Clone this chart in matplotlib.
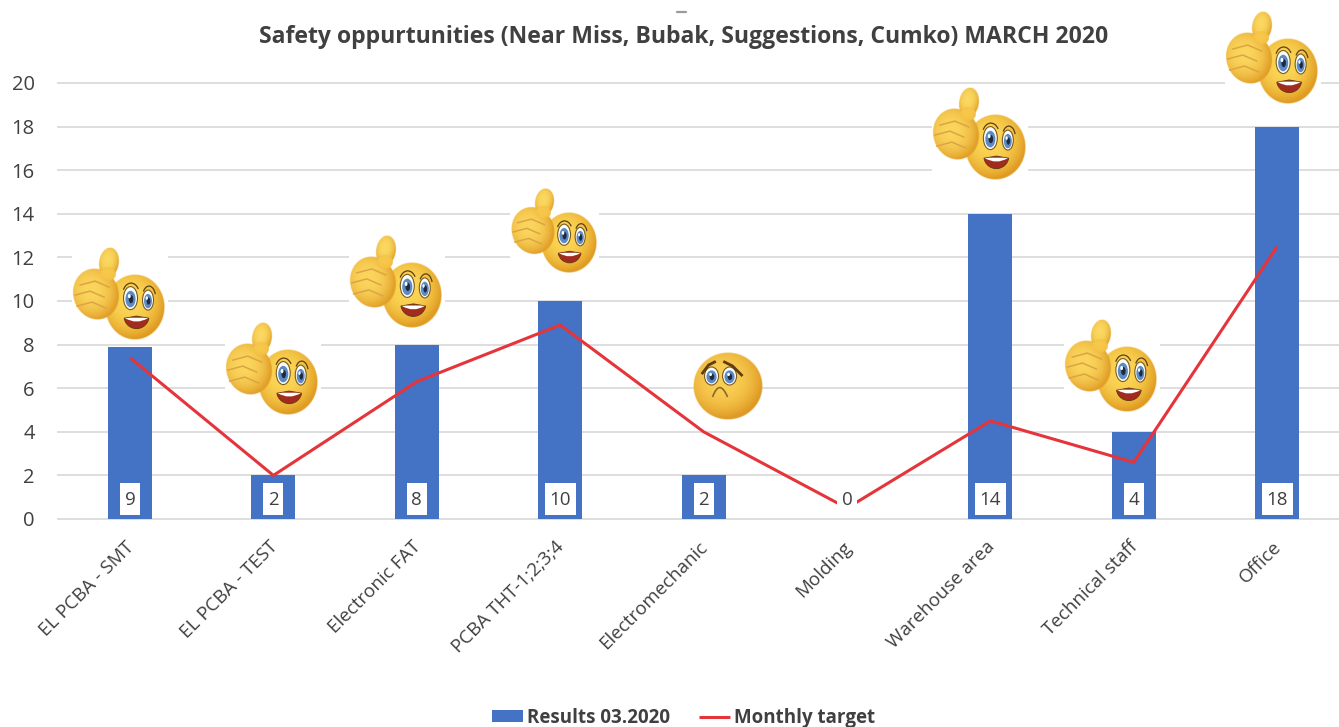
import numpy as np
import matplotlib
matplotlib.use("Agg")
import matplotlib.pyplot as plt
from matplotlib.patches import Ellipse, Rectangle, Wedge, Arc, PathPatch
from matplotlib.path import Path
from matplotlib.transforms import ScaledTranslation, Affine2D

categories = ["EL PCBA - SMT", "EL PCBA - TEST", "Electronic FAT", "PCBA THT-1;2;3;4",
              "Electromechanic", "Molding", "Warehouse area", "Technical staff", "Office"]
results = [7.9, 2, 8, 10, 2, 0, 14, 4, 18]
bar_labels = ["9", "2", "8", "10", "2", "0", "14", "4", "18"]
target = [7.4, 2.0, 6.3, 8.9, 4.0, 0.5, 4.5, 2.6, 12.5]
yticks = list(range(0, 21, 2))
title = "Safety oppurtunities (Near Miss, Bubak, Suggestions, Cumko) MARCH 2020"
series_names = ["Results 03.2020", "Monthly target"]

# emoji placement: face centre relative to its category and level on the value axis
emoji_kind = ["up", "up", "up", "up", "sad", None, "up", "up", "up"]
emoji_dx = [0.035, 0.10, -0.035, 0.056, 0.167, 0, 0.031, -0.045, 0.073]
emoji_level = [9.72, 6.28, 10.28, 12.66, 6.1, 0, 17.06, 6.42, 20.55]
emoji_scale = [1, 1, 1, 0.92, 1, 0, 1, 1, 1]

BLUE = "#4472C4"
RED = "#E5343A"
GRID = "#DEDEDE"
TXT = "#404040"
W, H = 1339, 727
plt.rcParams["font.family"] = ["Open Sans", "DejaVu Sans"]

fig = plt.figure(figsize=(W / 100, H / 100), dpi=100, facecolor="white")
L, R, T, B = 58.3, 1339, 83, 519
y_top = 20
ax = fig.add_axes([L / W, 1 - B / H, (R - L) / W, (B - T) / H])
step = 143.4
ax.set_xlim(-0.5, -0.5 + (R - L) / step)
ax.set_ylim(0, y_top)
for s in ax.spines.values():
    s.set_visible(False)
ax.set_yticks(yticks)
ax.yaxis.grid(True, color=GRID, lw=1.4, zorder=0, clip_on=False)
ax.set_axisbelow(True)
ax.tick_params(length=0)
ax.tick_params(axis="y", labelsize=14.5, labelcolor=TXT, pad=17)

xs = np.arange(len(categories))
bars = ax.bar(xs, results, width=0.307, color=BLUE, zorder=2, label=series_names[0])
line, = ax.plot(xs, target, color=RED, lw=2.2, zorder=3, label=series_names[1],
                solid_capstyle="butt", solid_joinstyle="miter")
ax.set_xticks(xs)
ax.set_xticklabels(categories, rotation=45, ha="right", rotation_mode="anchor",
                   fontsize=13.5, color=TXT)
ax.tick_params(axis="x", pad=13.5)
shift = ScaledTranslation(-5 / 100, 0, fig.dpi_scale_trans)
for lab in ax.get_xticklabels():
    lab.set_transform(lab.get_transform() + shift)

for x, lab in zip(xs, bar_labels):
    w = 0.14 if len(lab) == 1 else 0.215
    ax.add_patch(Rectangle((x - w / 2, 0.18), w, 1.47, fc="white", ec="none", zorder=4))
    ax.text(x, 0.86, lab, ha="center", va="center", fontsize=13.5, color=TXT, zorder=5)

fig.text(684 / W, 1 - 37 / H, title, ha="center", va="center", fontsize=16.55,
         fontweight="bold", color=TXT)

leg = fig.legend(handles=[bars, line], labels=series_names, loc="center", ncol=2, frameon=False,
                 bbox_to_anchor=(683.5 / W, 1 - 718 / H),
                 prop={"size": 13.5, "weight": "bold"}, labelcolor=TXT,
                 handlelength=1.65, handletextpad=0.2, columnspacing=1.55, handleheight=0.6)

# overlay in picture pixels for the decorative emojis
ov = fig.add_axes([0, 0, 1, 1], zorder=10)
ov.set_xlim(0, W)
ov.set_ylim(H, 0)
ov.axis("off")
ov.patch.set_alpha(0)
ov.plot([677, 686], [12, 12], color="#9A9A9A", lw=1.6, solid_capstyle="round")


def shaded(cx, cy, rx, ry, inner, outer, z, ang=0.0):
    n = 160
    yy, xx = np.mgrid[-1:1:n * 1j, -1:1:n * 1j]
    r = np.hypot(xx, yy)
    t = np.clip(np.hypot(xx + 0.15, yy + 0.2) / 1.15, 0, 1) ** 2.4
    rgba = np.zeros((n, n, 4))
    c0, c1 = matplotlib.colors.to_rgb(inner), matplotlib.colors.to_rgb(outer)
    for k in range(3):
        rgba[..., k] = c0[k] + (c1[k] - c0[k]) * t
    rgba[..., 3] = np.clip((1 - r) * 40, 0, 1)
    tr = Affine2D().rotate_deg_around(cx, cy, ang) + ov.transData
    ov.imshow(rgba, extent=(cx - rx, cx + rx, cy + ry, cy - ry), zorder=z, transform=tr,
              aspect="auto", interpolation="bilinear")


def eye(cx, cy, w, h, z, s):
    ov.add_patch(Ellipse((cx, cy), w, h, fc="#FDFDF5", ec="#7A5A20", lw=0.8, zorder=z))
    ov.add_patch(Ellipse((cx, cy + 1 * s), w * 0.72, h * 0.72, fc="#5C8AC4", ec="none", zorder=z + 0.1))
    ov.add_patch(Ellipse((cx + 0.5 * s, cy + 1 * s), w * 0.32, h * 0.36, fc="#1E2A40", ec="none", zorder=z + 0.2))
    ov.add_patch(Ellipse((cx - 1.2 * s, cy - 2 * s), w * 0.2, h * 0.18, fc="white", ec="none", zorder=z + 0.3))


def thumbs_up(fx, fy, s):
    hx, hy = fx - 39 * s, fy - 13 * s
    bx0, bx1 = fx - 63 * s, fx + 33 * s
    by0, by1 = fy - 59 * s, fy + 35 * s
    ov.add_patch(Rectangle((bx0, by0), bx1 - bx0, by1 - by0, fc="white", ec="none", zorder=1))
    shaded(fx, fy, 30 * s, 33 * s, "#FCD655", "#E09C22", 2)
    eye(fx - 4.5 * s, fy - 9 * s, 14 * s, 23 * s, 3, s)
    eye(fx + 13 * s, fy - 7 * s, 11 * s, 20 * s, 3, s)
    ov.add_patch(Arc((fx - 4 * s, fy - 12 * s), 17 * s, 24 * s, theta1=215, theta2=320, color="#5A4018", lw=0.9, zorder=4))
    ov.add_patch(Arc((fx + 14 * s, fy - 10 * s), 13 * s, 22 * s, theta1=225, theta2=335, color="#5A4018", lw=0.9, zorder=4))
    mx, my = fx + 1.5 * s, fy + 9 * s
    ov.add_patch(Wedge((mx, my), 12.5 * s, 10, 170, fc="#A32A1E", ec="#6B3A10", lw=0.7, zorder=3))
    ov.add_patch(PathPatch(Path([(mx - 11.5 * s, my + 2 * s), (mx, my + 9 * s), (mx + 11.5 * s, my + 2 * s),
                                 (mx, my + 1 * s), (mx - 11.5 * s, my + 2 * s)],
                                [1, 3, 3, 3, 3]), fc="white", ec="none", zorder=3.5))
    shaded(fx - 26 * s, fy - 44 * s, 10 * s, 15 * s, "#FBD860", "#E3A52C", 5, ang=8)
    shaded(hx, hy, 23 * s, 26 * s, "#FBD55C", "#E2A029", 6, ang=-18)
    shaded(fx - 27 * s, fy - 33 * s, 8 * s, 7 * s, "#F7C84A", "#F2BE44", 6.5)
    for dx, dy in [(-3, -12), (-8, -2), (-6, 9)]:
        ov.plot([hx + (dx - 13) * s, hx + (dx + 2) * s, hx + (dx + 16) * s],
                [hy + (dy + 3) * s, hy + (dy - 1) * s, hy + (dy + 5) * s],
                color="#DCA544", lw=1.1, zorder=7)


def sad(fx, fy, s):
    shaded(fx, fy, 35 * s, 34 * s, "#FBCF54", "#DE9A24", 2)
    eye(fx - 16 * s, fy - 10 * s, 14 * s, 18 * s, 3, s * 0.8)
    eye(fx + 2 * s, fy - 10 * s, 14 * s, 18 * s, 3, s * 0.8)
    ov.plot([fx - 25 * s, fx - 19 * s, fx - 13 * s], [fy - 13 * s, fy - 21 * s, fy - 24 * s], color="#5E3E12", lw=2, zorder=4)
    ov.plot([fx - 3 * s, fx + 5 * s, fx + 14 * s], [fy - 24 * s, fy - 20 * s, fy - 11 * s], color="#5E3E12", lw=2, zorder=4)
    ov.add_patch(PathPatch(Path([(fx - 15 * s, fy + 11 * s), (fx - 8 * s, fy - 8 * s), (fx, fy + 11 * s)],
                                [1, 3, 3]), fc="none", ec="#8A6A28", lw=1.2, zorder=4))


for x, kind, dx, lev, sc in zip(xs, emoji_kind, emoji_dx, emoji_level, emoji_scale):
    if kind is None:
        continue
    px, py = ax.transData.transform((x + dx, lev))
    fx, fy = px, H - py
    if kind == "up":
        thumbs_up(fx, fy, sc)
    else:
        sad(fx, fy, sc)
ov.set_xlim(0, W)
ov.set_ylim(H, 0)

fig.savefig("out.png", dpi=100)
